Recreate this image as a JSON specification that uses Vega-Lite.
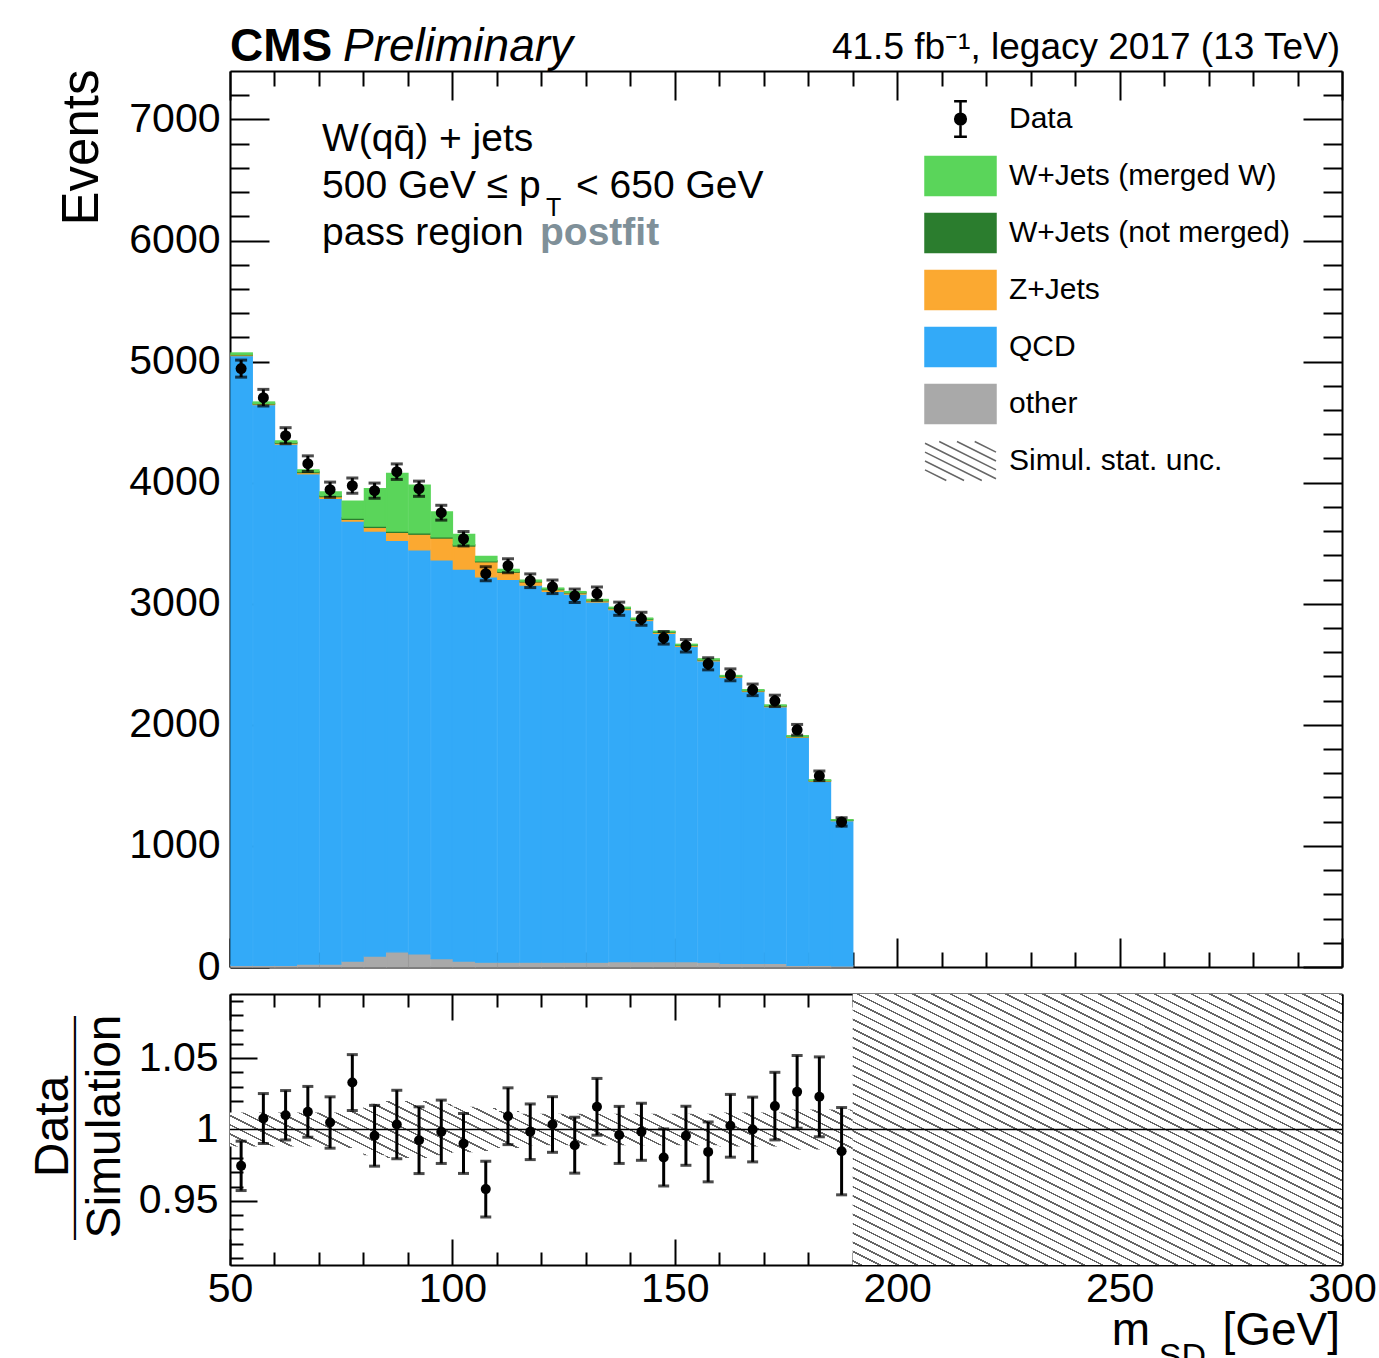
{
  "$schema": "https://vega.github.io/schema/vega-lite/v6.json",
  "background": "white",
  "padding": {"left": 30, "top": 24, "right": 5, "bottom": 5},
  "bounds": "flush",
  "spacing": 27,
  "config": {
    "font": "Liberation Sans",
    "view": {"stroke": null},
    "axis": {"domainColor": "#000", "domainWidth": 2, "tickColor": "#000", "tickWidth": 2, "labelFont": "Liberation Sans", "labelFontSize": 41, "labelColor": "#000", "labelOverlap": false, "labelFlush": false, "grid": false, "zindex": 1, "titleFont": "Liberation Sans", "titleFontWeight": "normal", "titleColor": "#000"},
    "text": {"font": "Liberation Sans", "color": "#000"}
  },
  "datasets": {
    "bins": [
      {"lo":50,"hi":55,"c":52.5,"data":4942,"err":70.3,"ratio":0.9745,"rerr":0.0173,"other":15,"QCD":5035,"Z+Jets":6,"W+Jets (not merged)":5,"W+Jets (merged W)":10},
      {"lo":55,"hi":60,"c":57.5,"data":4702,"err":68.6,"ratio":1.0077,"rerr":0.0175,"other":15,"QCD":4630,"Z+Jets":6,"W+Jets (not merged)":5,"W+Jets (merged W)":10},
      {"lo":60,"hi":65,"c":62.5,"data":4388,"err":66.2,"ratio":1.0100,"rerr":0.0173,"other":15,"QCD":4304,"Z+Jets":8,"W+Jets (not merged)":6,"W+Jets (merged W)":12},
      {"lo":65,"hi":70,"c":67.5,"data":4157,"err":64.5,"ratio":1.0124,"rerr":0.0178,"other":25,"QCD":4049,"Z+Jets":10,"W+Jets (not merged)":7,"W+Jets (merged W)":15},
      {"lo":70,"hi":75,"c":72.5,"data":3942,"err":62.8,"ratio":1.0049,"rerr":0.0180,"other":25,"QCD":3845,"Z+Jets":15,"W+Jets (not merged)":8,"W+Jets (merged W)":30},
      {"lo":75,"hi":80,"c":77.5,"data":3975,"err":63.0,"ratio":1.0329,"rerr":0.0196,"other":50,"QCD":3633,"Z+Jets":15,"W+Jets (not merged)":10,"W+Jets (merged W)":140},
      {"lo":80,"hi":85,"c":82.5,"data":3934,"err":62.7,"ratio":0.9956,"rerr":0.0213,"other":90,"QCD":3511,"Z+Jets":30,"W+Jets (not merged)":10,"W+Jets (merged W)":310},
      {"lo":85,"hi":90,"c":87.5,"data":4091,"err":64.0,"ratio":1.0035,"rerr":0.0240,"other":125,"QCD":3399,"Z+Jets":66,"W+Jets (not merged)":10,"W+Jets (merged W)":477},
      {"lo":90,"hi":95,"c":92.5,"data":3950,"err":62.8,"ratio":0.9925,"rerr":0.0234,"other":110,"QCD":3335,"Z+Jets":130,"W+Jets (not merged)":10,"W+Jets (merged W)":395},
      {"lo":95,"hi":100,"c":97.5,"data":3752,"err":61.3,"ratio":0.9984,"rerr":0.0222,"other":70,"QCD":3293,"Z+Jets":180,"W+Jets (not merged)":10,"W+Jets (merged W)":205},
      {"lo":100,"hi":105,"c":102.5,"data":3537,"err":59.5,"ratio":0.9902,"rerr":0.0210,"other":50,"QCD":3237,"Z+Jets":190,"W+Jets (not merged)":10,"W+Jets (merged W)":85},
      {"lo":105,"hi":110,"c":107.5,"data":3248,"err":57.0,"ratio":0.9582,"rerr":0.0195,"other":40,"QCD":3182,"Z+Jets":125,"W+Jets (not merged)":8,"W+Jets (merged W)":35},
      {"lo":110,"hi":115,"c":112.5,"data":3314,"err":57.6,"ratio":1.0093,"rerr":0.0199,"other":40,"QCD":3161,"Z+Jets":60,"W+Jets (not merged)":7,"W+Jets (merged W)":15},
      {"lo":115,"hi":120,"c":117.5,"data":3190,"err":56.5,"ratio":0.9984,"rerr":0.0195,"other":40,"QCD":3114,"Z+Jets":27,"W+Jets (not merged)":6,"W+Jets (merged W)":8},
      {"lo":120,"hi":125,"c":122.5,"data":3140,"err":56.0,"ratio":1.0035,"rerr":0.0195,"other":40,"QCD":3063,"Z+Jets":14,"W+Jets (not merged)":6,"W+Jets (merged W)":6},
      {"lo":125,"hi":130,"c":127.5,"data":3066,"err":55.4,"ratio":0.9890,"rerr":0.0196,"other":40,"QCD":3040,"Z+Jets":10,"W+Jets (not merged)":5,"W+Jets (merged W)":5},
      {"lo":130,"hi":135,"c":132.5,"data":3083,"err":55.5,"ratio":1.0159,"rerr":0.0199,"other":40,"QCD":2975,"Z+Jets":10,"W+Jets (not merged)":5,"W+Jets (merged W)":5},
      {"lo":135,"hi":140,"c":137.5,"data":2959,"err":54.4,"ratio":0.9962,"rerr":0.0200,"other":45,"QCD":2907,"Z+Jets":9,"W+Jets (not merged)":5,"W+Jets (merged W)":5},
      {"lo":140,"hi":145,"c":142.5,"data":2876,"err":53.6,"ratio":0.9984,"rerr":0.0200,"other":45,"QCD":2817,"Z+Jets":9,"W+Jets (not merged)":5,"W+Jets (merged W)":5},
      {"lo":145,"hi":150,"c":147.5,"data":2719,"err":52.1,"ratio":0.9804,"rerr":0.0200,"other":45,"QCD":2711,"Z+Jets":8,"W+Jets (not merged)":5,"W+Jets (merged W)":4},
      {"lo":150,"hi":155,"c":152.5,"data":2653,"err":51.5,"ratio":0.9956,"rerr":0.0207,"other":45,"QCD":2603,"Z+Jets":8,"W+Jets (not merged)":5,"W+Jets (merged W)":4},
      {"lo":155,"hi":160,"c":157.5,"data":2504,"err":50.0,"ratio":0.9843,"rerr":0.0210,"other":40,"QCD":2489,"Z+Jets":7,"W+Jets (not merged)":4,"W+Jets (merged W)":4},
      {"lo":160,"hi":165,"c":162.5,"data":2413,"err":49.1,"ratio":1.0026,"rerr":0.0220,"other":30,"QCD":2362,"Z+Jets":7,"W+Jets (not merged)":4,"W+Jets (merged W)":4},
      {"lo":165,"hi":170,"c":167.5,"data":2289,"err":47.8,"ratio":1.0000,"rerr":0.0227,"other":30,"QCD":2246,"Z+Jets":6,"W+Jets (not merged)":4,"W+Jets (merged W)":3},
      {"lo":170,"hi":175,"c":172.5,"data":2198,"err":46.9,"ratio":1.0164,"rerr":0.0237,"other":30,"QCD":2120,"Z+Jets":6,"W+Jets (not merged)":4,"W+Jets (merged W)":3},
      {"lo":175,"hi":180,"c":177.5,"data":1959,"err":44.3,"ratio":1.0264,"rerr":0.0255,"other":15,"QCD":1883,"Z+Jets":5,"W+Jets (not merged)":3,"W+Jets (merged W)":3},
      {"lo":180,"hi":185,"c":182.5,"data":1579,"err":39.7,"ratio":1.0229,"rerr":0.0280,"other":15,"QCD":1520,"Z+Jets":4,"W+Jets (not merged)":3,"W+Jets (merged W)":2},
      {"lo":185,"hi":190,"c":187.5,"data":1198,"err":34.6,"ratio":0.9848,"rerr":0.0306,"other":10,"QCD":1199,"Z+Jets":3,"W+Jets (not merged)":2,"W+Jets (merged W)":2}
    ],
    "band": [
      {"x":50,"blo":0.988,"bhi":1.012},{"x":55,"blo":0.988,"bhi":1.012},{"x":60,"blo":0.988,"bhi":1.012},{"x":65,"blo":0.988,"bhi":1.012},
      {"x":70,"blo":0.988,"bhi":1.012},{"x":75,"blo":0.987,"bhi":1.013},{"x":80,"blo":0.982,"bhi":1.018},{"x":85,"blo":0.980,"bhi":1.020},
      {"x":90,"blo":0.980,"bhi":1.020},{"x":95,"blo":0.982,"bhi":1.018},{"x":100,"blo":0.984,"bhi":1.016},{"x":105,"blo":0.985,"bhi":1.015},
      {"x":110,"blo":0.987,"bhi":1.013},{"x":115,"blo":0.989,"bhi":1.011},{"x":120,"blo":0.989,"bhi":1.011},{"x":125,"blo":0.989,"bhi":1.011},
      {"x":130,"blo":0.989,"bhi":1.011},{"x":135,"blo":0.989,"bhi":1.011},{"x":140,"blo":0.989,"bhi":1.011},{"x":145,"blo":0.989,"bhi":1.011},
      {"x":150,"blo":0.989,"bhi":1.011},{"x":155,"blo":0.989,"bhi":1.011},{"x":160,"blo":0.988,"bhi":1.012},{"x":165,"blo":0.988,"bhi":1.012},
      {"x":170,"blo":0.988,"bhi":1.012},{"x":175,"blo":0.986,"bhi":1.014},{"x":180,"blo":0.986,"bhi":1.014},{"x":185,"blo":0.986,"bhi":1.014},
      {"x":190,"blo":0.986,"bhi":1.014}
    ],
    "ranks": [
      {"process":"other","rank":1},
      {"process":"QCD","rank":2},
      {"process":"Z+Jets","rank":3},
      {"process":"W+Jets (not merged)","rank":4},
      {"process":"W+Jets (merged W)","rank":5}
    ]
  },
  "vconcat": [
    {
      "width": 1112,
      "height": 896,
      "data": {"name": "bins"},
      "layer": [
        {
          "transform": [
            {"fold": ["other", "QCD", "Z+Jets", "W+Jets (not merged)", "W+Jets (merged W)"], "as": ["process", "n"]},
            {"lookup": "process", "from": {"data": {"name": "ranks"}, "key": "process", "fields": ["rank"]}}
          ],
          "mark": {"type": "bar", "strokeWidth": 1.4},
          "encoding": {
            "x": {"field": "lo", "type": "quantitative", "bin": {"binned": true, "step": 5}, "scale": {"domain": [50, 300], "nice": false, "zero": false},
                  "axis": {"orient": "bottom", "values": [50,60,70,80,90,100,110,120,130,140,150,160,170,180,190,200,210,220,230,240,250,260,270,280,290,300], "labels": false, "tickSize": {"expr": "datum.value % 50 === 0 ? -29 : -15"}, "title": null}},
            "x2": {"field": "hi"},
            "y": {"field": "n", "type": "quantitative", "stack": "zero", "scale": {"domain": [0, 7400], "nice": false, "zero": false},
                  "axis": {"orient": "left", "values": [0,200,400,600,800,1000,1200,1400,1600,1800,2000,2200,2400,2600,2800,3000,3200,3400,3600,3800,4000,4200,4400,4600,4800,5000,5200,5400,5600,5800,6000,6200,6400,6600,6800,7000,7200],
                           "tickSize": {"expr": "datum.value % 1000 === 0 ? -39 : -19"},
                           "labelExpr": "datum.value % 1000 === 0 ? format(datum.value, 'd') : ''",
                           "labelPadding": 49, "labelFontSize": 41,
                           "title": "Events", "titleFontSize": 51, "titleAngle": 270, "titleAlign": "right", "titleBaseline": "alphabetic", "titleX": -133, "titleY": -2}},
            "color": {"field": "process", "type": "nominal",
                      "scale": {"domain": ["Data", "W+Jets (merged W)", "W+Jets (not merged)", "Z+Jets", "QCD", "other", "Simul. stat. unc."],
                                "range": ["#000000", "#5ad55a", "#2b7d2e", "#fba931", "#33aaf8", "#a9a9a9", "#ffffff"]},
                      "legend": {
                        "orient": "none", "legendX": 715.5, "legendY": 33, "title": null, "padding": 0,
                        "symbolSize": 5041, "symbolStrokeWidth": 1.5, "symbolOpacity": 1,
                        "labelFont": "Liberation Sans", "labelFontSize": 30, "labelColor": "#000", "labelOffset": 33.5, "labelLimit": 0, "rowPadding": 11,
                        "encode": {
                          "symbols": {
                            "update": {
                              "shape": {"signal": "datum.value === 'Data' ? 'M0,-0.5V0.5M-0.18,-0.5H0.18M-0.18,0.5H0.18M-0.15,0A0.15,0.15 0 1,0 0.15,0A0.15,0.15 0 1,0 -0.15,0Z' : datum.value === 'Simul. stat. unc.' ? 'M0.4,-0.55L1,-0.25M-0.1,-0.55L1,0M-0.6,-0.55L1,0.25M-1,-0.5L1,0.5M-1,-0.25L0.6,0.55M-1,0L0.1,0.55M-1,0.25L-0.4,0.55' : 'M-1,-0.55H1V0.55H-1Z'"},
                              "fill": {"signal": "datum.value === 'Data' ? '#000' : datum.value === 'Simul. stat. unc.' ? 'transparent' : datum.value === 'W+Jets (merged W)' ? '#5ad55a' : datum.value === 'W+Jets (not merged)' ? '#2b7d2e' : datum.value === 'Z+Jets' ? '#fba931' : datum.value === 'QCD' ? '#33aaf8' : '#a9a9a9'"},
                              "strokeWidth": {"signal": "datum.value === 'Data' ? 2.5 : 1.5"},
                              "opacity": {"value": 1}
                            }
                          }
                        }
                      }},
            "stroke": {"field": "process", "type": "nominal",
                       "scale": {"domain": ["Data", "W+Jets (merged W)", "W+Jets (not merged)", "Z+Jets", "QCD", "other", "Simul. stat. unc."],
                                 "range": ["#000000", "#5ad55a", "#2b7d2e", "#fba931", "#33aaf8", "#a9a9a9", "#666666"]},
                       "legend": null},
            "order": {"field": "rank", "type": "quantitative"}
          }
        },
        {
          "mark": {"type": "errorbar", "thickness": 3, "color": "#000", "ticks": {"size": 12, "thickness": 3, "color": "#000"}},
          "encoding": {
            "x": {"field": "c", "type": "quantitative", "scale": {"domain": [50, 300], "nice": false, "zero": false}, "axis": null},
            "y": {"field": "data", "type": "quantitative", "scale": {"domain": [0, 7400], "nice": false, "zero": false}, "axis": null},
            "yError": {"field": "err"}
          }
        },
        {
          "mark": {"type": "point", "filled": true, "size": 121, "color": "#000", "opacity": 1},
          "encoding": {
            "x": {"field": "c", "type": "quantitative", "scale": {"domain": [50, 300], "nice": false, "zero": false},
                  "axis": {"orient": "top", "values": [50,60,70,80,90,100,110,120,130,140,150,160,170,180,190,200,210,220,230,240,250,260,270,280,290,300], "labels": false, "tickSize": {"expr": "datum.value % 50 === 0 ? -29 : -15"}, "title": null}},
            "y": {"field": "data", "type": "quantitative", "scale": {"domain": [0, 7400], "nice": false, "zero": false},
                  "axis": {"orient": "right", "values": [0,200,400,600,800,1000,1200,1400,1600,1800,2000,2200,2400,2600,2800,3000,3200,3400,3600,3800,4000,4200,4400,4600,4800,5000,5200,5400,5600,5800,6000,6200,6400,6600,6800,7000,7200], "labels": false, "tickSize": {"expr": "datum.value % 1000 === 0 ? -39 : -19"}, "title": null}}
          }
        },
        {
          "data": {"values": [{}]},
          "mark": {"type": "text", "text": "CMS", "fontSize": 46, "fontWeight": "bold", "align": "left", "baseline": "alphabetic", "dx": 0, "dy": -10},
          "encoding": {"x": {"datum": 50, "type": "quantitative", "scale": {"domain": [50, 300], "nice": false, "zero": false}, "axis": null}, "y": {"datum": 7400, "type": "quantitative", "scale": {"domain": [0, 7400], "nice": false, "zero": false}, "axis": null}}
        },
        {
          "data": {"values": [{}]},
          "mark": {"type": "text", "text": "Preliminary", "fontSize": 46, "fontStyle": "italic", "align": "left", "baseline": "alphabetic", "dx": 113, "dy": -10},
          "encoding": {"x": {"datum": 50, "type": "quantitative", "scale": {"domain": [50, 300], "nice": false, "zero": false}, "axis": null}, "y": {"datum": 7400, "type": "quantitative", "scale": {"domain": [0, 7400], "nice": false, "zero": false}, "axis": null}}
        },
        {
          "data": {"values": [{}]},
          "mark": {"type": "text", "text": "41.5 fb⁻¹, legacy 2017 (13 TeV)", "fontSize": 37, "align": "right", "baseline": "alphabetic", "dx": -2, "dy": -12},
          "encoding": {"x": {"datum": 300, "type": "quantitative", "scale": {"domain": [50, 300], "nice": false, "zero": false}, "axis": null}, "y": {"datum": 7400, "type": "quantitative", "scale": {"domain": [0, 7400], "nice": false, "zero": false}, "axis": null}}
        },
        {
          "data": {"values": [{}]},
          "mark": {"type": "text", "text": "W(qq̄) + jets", "fontSize": 39, "align": "left", "baseline": "alphabetic", "dx": 92, "dy": 80},
          "encoding": {"x": {"datum": 50, "type": "quantitative", "scale": {"domain": [50, 300], "nice": false, "zero": false}, "axis": null}, "y": {"datum": 7400, "type": "quantitative", "scale": {"domain": [0, 7400], "nice": false, "zero": false}, "axis": null}}
        },
        {
          "data": {"values": [{}]},
          "mark": {"type": "text", "text": "500 GeV ≤ p", "fontSize": 39, "align": "left", "baseline": "alphabetic", "dx": 92, "dy": 127},
          "encoding": {"x": {"datum": 50, "type": "quantitative", "scale": {"domain": [50, 300], "nice": false, "zero": false}, "axis": null}, "y": {"datum": 7400, "type": "quantitative", "scale": {"domain": [0, 7400], "nice": false, "zero": false}, "axis": null}}
        },
        {
          "data": {"values": [{}]},
          "mark": {"type": "text", "text": "T", "fontSize": 25, "align": "left", "baseline": "alphabetic", "dx": 316, "dy": 145},
          "encoding": {"x": {"datum": 50, "type": "quantitative", "scale": {"domain": [50, 300], "nice": false, "zero": false}, "axis": null}, "y": {"datum": 7400, "type": "quantitative", "scale": {"domain": [0, 7400], "nice": false, "zero": false}, "axis": null}}
        },
        {
          "data": {"values": [{}]},
          "mark": {"type": "text", "text": "< 650 GeV", "fontSize": 39, "align": "left", "baseline": "alphabetic", "dx": 346, "dy": 127},
          "encoding": {"x": {"datum": 50, "type": "quantitative", "scale": {"domain": [50, 300], "nice": false, "zero": false}, "axis": null}, "y": {"datum": 7400, "type": "quantitative", "scale": {"domain": [0, 7400], "nice": false, "zero": false}, "axis": null}}
        },
        {
          "data": {"values": [{}]},
          "mark": {"type": "text", "text": "pass region", "fontSize": 39, "align": "left", "baseline": "alphabetic", "dx": 92, "dy": 174},
          "encoding": {"x": {"datum": 50, "type": "quantitative", "scale": {"domain": [50, 300], "nice": false, "zero": false}, "axis": null}, "y": {"datum": 7400, "type": "quantitative", "scale": {"domain": [0, 7400], "nice": false, "zero": false}, "axis": null}}
        },
        {
          "data": {"values": [{}]},
          "mark": {"type": "text", "text": "postfit", "fontSize": 39, "fontWeight": "bold", "color": "#7f9099", "align": "left", "baseline": "alphabetic", "dx": 310, "dy": 174},
          "encoding": {"x": {"datum": 50, "type": "quantitative", "scale": {"domain": [50, 300], "nice": false, "zero": false}, "axis": null}, "y": {"datum": 7400, "type": "quantitative", "scale": {"domain": [0, 7400], "nice": false, "zero": false}, "axis": null}}
        }
      ],
      "resolve": {"axis": {"x": "independent", "y": "independent"}}
    },
    {
      "width": 1112,
      "height": 271,
      "data": {"name": "bins"},
      "layer": [
        {
          "data": {"name": "band"},
          "mark": {"type": "area", "interpolate": "step-after", "color": {"gradient": "linear", "x1": 1, "y1": 0, "x2": -0.14482, "y2": 0.20977, "stops": [
            {"offset":0,"color":"#666"},{"offset":0.0049,"color":"#666"},{"offset":0.0049,"color":"#fff"},{"offset":0.0252,"color":"#fff"},
            {"offset":0.0252,"color":"#666"},{"offset":0.0301,"color":"#666"},{"offset":0.0301,"color":"#fff"},{"offset":0.0504,"color":"#fff"},
            {"offset":0.0504,"color":"#666"},{"offset":0.0553,"color":"#666"},{"offset":0.0553,"color":"#fff"},{"offset":0.0756,"color":"#fff"},
            {"offset":0.0756,"color":"#666"},{"offset":0.0805,"color":"#666"},{"offset":0.0805,"color":"#fff"},{"offset":0.1008,"color":"#fff"},
            {"offset":0.1008,"color":"#666"},{"offset":0.1057,"color":"#666"},{"offset":0.1057,"color":"#fff"},{"offset":0.126,"color":"#fff"},
            {"offset":0.126,"color":"#666"},{"offset":0.1309,"color":"#666"},{"offset":0.1309,"color":"#fff"},{"offset":0.1512,"color":"#fff"},
            {"offset":0.1512,"color":"#666"},{"offset":0.1561,"color":"#666"},{"offset":0.1561,"color":"#fff"},{"offset":0.1764,"color":"#fff"},
            {"offset":0.1764,"color":"#666"},{"offset":0.1813,"color":"#666"},{"offset":0.1813,"color":"#fff"},{"offset":0.2016,"color":"#fff"},
            {"offset":0.2016,"color":"#666"},{"offset":0.2065,"color":"#666"},{"offset":0.2065,"color":"#fff"},{"offset":0.2268,"color":"#fff"},
            {"offset":0.2268,"color":"#666"},{"offset":0.2317,"color":"#666"},{"offset":0.2317,"color":"#fff"},{"offset":0.252,"color":"#fff"},
            {"offset":0.252,"color":"#666"},{"offset":0.2569,"color":"#666"},{"offset":0.2569,"color":"#fff"},{"offset":0.2772,"color":"#fff"},
            {"offset":0.2772,"color":"#666"},{"offset":0.2821,"color":"#666"},{"offset":0.2821,"color":"#fff"},{"offset":0.3024,"color":"#fff"},
            {"offset":0.3024,"color":"#666"},{"offset":0.3073,"color":"#666"},{"offset":0.3073,"color":"#fff"},{"offset":0.3276,"color":"#fff"},
            {"offset":0.3276,"color":"#666"},{"offset":0.3325,"color":"#666"},{"offset":0.3325,"color":"#fff"},{"offset":0.3528,"color":"#fff"},
            {"offset":0.3528,"color":"#666"},{"offset":0.3577,"color":"#666"},{"offset":0.3577,"color":"#fff"},{"offset":0.378,"color":"#fff"},
            {"offset":0.378,"color":"#666"},{"offset":0.3829,"color":"#666"},{"offset":0.3829,"color":"#fff"},{"offset":0.4032,"color":"#fff"},
            {"offset":0.4032,"color":"#666"},{"offset":0.4081,"color":"#666"},{"offset":0.4081,"color":"#fff"},{"offset":0.4284,"color":"#fff"},
            {"offset":0.4284,"color":"#666"},{"offset":0.4333,"color":"#666"},{"offset":0.4333,"color":"#fff"},{"offset":0.4536,"color":"#fff"},
            {"offset":0.4536,"color":"#666"},{"offset":0.4585,"color":"#666"},{"offset":0.4585,"color":"#fff"},{"offset":0.4788,"color":"#fff"},
            {"offset":0.4788,"color":"#666"},{"offset":0.4837,"color":"#666"},{"offset":0.4837,"color":"#fff"},{"offset":0.504,"color":"#fff"},
            {"offset":0.504,"color":"#666"},{"offset":0.5089,"color":"#666"},{"offset":0.5089,"color":"#fff"},{"offset":0.5292,"color":"#fff"},
            {"offset":0.5292,"color":"#666"},{"offset":0.5341,"color":"#666"},{"offset":0.5341,"color":"#fff"},{"offset":0.5544,"color":"#fff"},
            {"offset":0.5544,"color":"#666"},{"offset":0.5593,"color":"#666"},{"offset":0.5593,"color":"#fff"},{"offset":0.5796,"color":"#fff"},
            {"offset":0.5796,"color":"#666"},{"offset":0.5845,"color":"#666"},{"offset":0.5845,"color":"#fff"},{"offset":0.6048,"color":"#fff"},
            {"offset":0.6048,"color":"#666"},{"offset":0.6097,"color":"#666"},{"offset":0.6097,"color":"#fff"},{"offset":0.63,"color":"#fff"},
            {"offset":0.63,"color":"#666"},{"offset":0.6349,"color":"#666"},{"offset":0.6349,"color":"#fff"},{"offset":0.6552,"color":"#fff"},
            {"offset":0.6552,"color":"#666"},{"offset":0.6601,"color":"#666"},{"offset":0.6601,"color":"#fff"},{"offset":0.6804,"color":"#fff"},
            {"offset":0.6804,"color":"#666"},{"offset":0.6853,"color":"#666"},{"offset":0.6853,"color":"#fff"},{"offset":0.7056,"color":"#fff"},
            {"offset":0.7056,"color":"#666"},{"offset":0.7105,"color":"#666"},{"offset":0.7105,"color":"#fff"},{"offset":0.7308,"color":"#fff"},
            {"offset":0.7308,"color":"#666"},{"offset":0.7357,"color":"#666"},{"offset":0.7357,"color":"#fff"},{"offset":0.756,"color":"#fff"},
            {"offset":0.756,"color":"#666"},{"offset":0.7609,"color":"#666"},{"offset":0.7609,"color":"#fff"},{"offset":0.7812,"color":"#fff"},
            {"offset":0.7812,"color":"#666"},{"offset":0.7861,"color":"#666"},{"offset":0.7861,"color":"#fff"},{"offset":0.8064,"color":"#fff"},
            {"offset":0.8064,"color":"#666"},{"offset":0.8113,"color":"#666"},{"offset":0.8113,"color":"#fff"},{"offset":0.8316,"color":"#fff"},
            {"offset":0.8316,"color":"#666"},{"offset":0.8365,"color":"#666"},{"offset":0.8365,"color":"#fff"},{"offset":0.8568,"color":"#fff"},
            {"offset":0.8568,"color":"#666"},{"offset":0.8617,"color":"#666"},{"offset":0.8617,"color":"#fff"},{"offset":0.882,"color":"#fff"},
            {"offset":0.882,"color":"#666"},{"offset":0.8869,"color":"#666"},{"offset":0.8869,"color":"#fff"},{"offset":0.9072,"color":"#fff"},
            {"offset":0.9072,"color":"#666"},{"offset":0.9121,"color":"#666"},{"offset":0.9121,"color":"#fff"},{"offset":0.9324,"color":"#fff"},
            {"offset":0.9324,"color":"#666"},{"offset":0.9373,"color":"#666"},{"offset":0.9373,"color":"#fff"},{"offset":0.9576,"color":"#fff"},
            {"offset":0.9576,"color":"#666"},{"offset":0.9625,"color":"#666"},{"offset":0.9625,"color":"#fff"},{"offset":0.9828,"color":"#fff"},
            {"offset":0.9828,"color":"#666"},{"offset":0.9877,"color":"#666"},{"offset":0.9877,"color":"#fff"},{"offset":1,"color":"#fff"}
          ]}},
          "encoding": {
            "x": {"field": "x", "type": "quantitative", "scale": {"domain": [50, 300], "nice": false, "zero": false},
                  "axis": {"orient": "top", "values": [50,60,70,80,90,100,110,120,130,140,150,160,170,180,190,200,210,220,230,240,250,260,270,280,290,300], "labels": false, "tickSize": {"expr": "datum.value % 50 === 0 ? -26 : -13"}, "title": null}},
            "y": {"field": "blo", "type": "quantitative", "scale": {"domain": [0.905, 1.095], "nice": false, "zero": false},
                  "axis": {"orient": "right", "values": [0.91,0.92,0.93,0.94,0.95,0.96,0.97,0.98,0.99,1,1.01,1.02,1.03,1.04,1.05,1.06,1.07,1.08,1.09], "labels": false, "tickSize": {"expr": "abs(datum.value*20 - round(datum.value*20)) < 0.001 ? -27 : -13"}, "title": null}},
            "y2": {"field": "bhi"}
          }
        },
        {
          "data": {"values": [{}]},
          "mark": {"type": "rect", "color": {"gradient": "linear", "x1": 1, "y1": 0, "x2": 0.0535, "y2": 1.0484, "stops": [
            {"offset":0,"color":"#666"},{"offset":0.0035,"color":"#666"},{"offset":0.0035,"color":"#fff"},{"offset":0.018,"color":"#fff"},
            {"offset":0.018,"color":"#666"},{"offset":0.0215,"color":"#666"},{"offset":0.0215,"color":"#fff"},{"offset":0.036,"color":"#fff"},
            {"offset":0.036,"color":"#666"},{"offset":0.0395,"color":"#666"},{"offset":0.0395,"color":"#fff"},{"offset":0.054,"color":"#fff"},
            {"offset":0.054,"color":"#666"},{"offset":0.0575,"color":"#666"},{"offset":0.0575,"color":"#fff"},{"offset":0.072,"color":"#fff"},
            {"offset":0.072,"color":"#666"},{"offset":0.0755,"color":"#666"},{"offset":0.0755,"color":"#fff"},{"offset":0.09,"color":"#fff"},
            {"offset":0.09,"color":"#666"},{"offset":0.0935,"color":"#666"},{"offset":0.0935,"color":"#fff"},{"offset":0.108,"color":"#fff"},
            {"offset":0.108,"color":"#666"},{"offset":0.1115,"color":"#666"},{"offset":0.1115,"color":"#fff"},{"offset":0.126,"color":"#fff"},
            {"offset":0.126,"color":"#666"},{"offset":0.1295,"color":"#666"},{"offset":0.1295,"color":"#fff"},{"offset":0.144,"color":"#fff"},
            {"offset":0.144,"color":"#666"},{"offset":0.1475,"color":"#666"},{"offset":0.1475,"color":"#fff"},{"offset":0.162,"color":"#fff"},
            {"offset":0.162,"color":"#666"},{"offset":0.1655,"color":"#666"},{"offset":0.1655,"color":"#fff"},{"offset":0.18,"color":"#fff"},
            {"offset":0.18,"color":"#666"},{"offset":0.1835,"color":"#666"},{"offset":0.1835,"color":"#fff"},{"offset":0.198,"color":"#fff"},
            {"offset":0.198,"color":"#666"},{"offset":0.2015,"color":"#666"},{"offset":0.2015,"color":"#fff"},{"offset":0.216,"color":"#fff"},
            {"offset":0.216,"color":"#666"},{"offset":0.2195,"color":"#666"},{"offset":0.2195,"color":"#fff"},{"offset":0.234,"color":"#fff"},
            {"offset":0.234,"color":"#666"},{"offset":0.2375,"color":"#666"},{"offset":0.2375,"color":"#fff"},{"offset":0.252,"color":"#fff"},
            {"offset":0.252,"color":"#666"},{"offset":0.2555,"color":"#666"},{"offset":0.2555,"color":"#fff"},{"offset":0.27,"color":"#fff"},
            {"offset":0.27,"color":"#666"},{"offset":0.2735,"color":"#666"},{"offset":0.2735,"color":"#fff"},{"offset":0.288,"color":"#fff"},
            {"offset":0.288,"color":"#666"},{"offset":0.2915,"color":"#666"},{"offset":0.2915,"color":"#fff"},{"offset":0.306,"color":"#fff"},
            {"offset":0.306,"color":"#666"},{"offset":0.3095,"color":"#666"},{"offset":0.3095,"color":"#fff"},{"offset":0.324,"color":"#fff"},
            {"offset":0.324,"color":"#666"},{"offset":0.3275,"color":"#666"},{"offset":0.3275,"color":"#fff"},{"offset":0.342,"color":"#fff"},
            {"offset":0.342,"color":"#666"},{"offset":0.3455,"color":"#666"},{"offset":0.3455,"color":"#fff"},{"offset":0.36,"color":"#fff"},
            {"offset":0.36,"color":"#666"},{"offset":0.3635,"color":"#666"},{"offset":0.3635,"color":"#fff"},{"offset":0.378,"color":"#fff"},
            {"offset":0.378,"color":"#666"},{"offset":0.3815,"color":"#666"},{"offset":0.3815,"color":"#fff"},{"offset":0.396,"color":"#fff"},
            {"offset":0.396,"color":"#666"},{"offset":0.3995,"color":"#666"},{"offset":0.3995,"color":"#fff"},{"offset":0.414,"color":"#fff"},
            {"offset":0.414,"color":"#666"},{"offset":0.4175,"color":"#666"},{"offset":0.4175,"color":"#fff"},{"offset":0.432,"color":"#fff"},
            {"offset":0.432,"color":"#666"},{"offset":0.4355,"color":"#666"},{"offset":0.4355,"color":"#fff"},{"offset":0.45,"color":"#fff"},
            {"offset":0.45,"color":"#666"},{"offset":0.4535,"color":"#666"},{"offset":0.4535,"color":"#fff"},{"offset":0.468,"color":"#fff"},
            {"offset":0.468,"color":"#666"},{"offset":0.4715,"color":"#666"},{"offset":0.4715,"color":"#fff"},{"offset":0.486,"color":"#fff"},
            {"offset":0.486,"color":"#666"},{"offset":0.4895,"color":"#666"},{"offset":0.4895,"color":"#fff"},{"offset":0.504,"color":"#fff"},
            {"offset":0.504,"color":"#666"},{"offset":0.5075,"color":"#666"},{"offset":0.5075,"color":"#fff"},{"offset":0.522,"color":"#fff"},
            {"offset":0.522,"color":"#666"},{"offset":0.5255,"color":"#666"},{"offset":0.5255,"color":"#fff"},{"offset":0.54,"color":"#fff"},
            {"offset":0.54,"color":"#666"},{"offset":0.5435,"color":"#666"},{"offset":0.5435,"color":"#fff"},{"offset":0.558,"color":"#fff"},
            {"offset":0.558,"color":"#666"},{"offset":0.5615,"color":"#666"},{"offset":0.5615,"color":"#fff"},{"offset":0.576,"color":"#fff"},
            {"offset":0.576,"color":"#666"},{"offset":0.5795,"color":"#666"},{"offset":0.5795,"color":"#fff"},{"offset":0.594,"color":"#fff"},
            {"offset":0.594,"color":"#666"},{"offset":0.5975,"color":"#666"},{"offset":0.5975,"color":"#fff"},{"offset":0.612,"color":"#fff"},
            {"offset":0.612,"color":"#666"},{"offset":0.6155,"color":"#666"},{"offset":0.6155,"color":"#fff"},{"offset":0.63,"color":"#fff"},
            {"offset":0.63,"color":"#666"},{"offset":0.6335,"color":"#666"},{"offset":0.6335,"color":"#fff"},{"offset":0.648,"color":"#fff"},
            {"offset":0.648,"color":"#666"},{"offset":0.6515,"color":"#666"},{"offset":0.6515,"color":"#fff"},{"offset":0.666,"color":"#fff"},
            {"offset":0.666,"color":"#666"},{"offset":0.6695,"color":"#666"},{"offset":0.6695,"color":"#fff"},{"offset":0.684,"color":"#fff"},
            {"offset":0.684,"color":"#666"},{"offset":0.6875,"color":"#666"},{"offset":0.6875,"color":"#fff"},{"offset":0.702,"color":"#fff"},
            {"offset":0.702,"color":"#666"},{"offset":0.7055,"color":"#666"},{"offset":0.7055,"color":"#fff"},{"offset":0.72,"color":"#fff"},
            {"offset":0.72,"color":"#666"},{"offset":0.7235,"color":"#666"},{"offset":0.7235,"color":"#fff"},{"offset":0.738,"color":"#fff"},
            {"offset":0.738,"color":"#666"},{"offset":0.7415,"color":"#666"},{"offset":0.7415,"color":"#fff"},{"offset":0.756,"color":"#fff"},
            {"offset":0.756,"color":"#666"},{"offset":0.7595,"color":"#666"},{"offset":0.7595,"color":"#fff"},{"offset":0.774,"color":"#fff"},
            {"offset":0.774,"color":"#666"},{"offset":0.7775,"color":"#666"},{"offset":0.7775,"color":"#fff"},{"offset":0.792,"color":"#fff"},
            {"offset":0.792,"color":"#666"},{"offset":0.7955,"color":"#666"},{"offset":0.7955,"color":"#fff"},{"offset":0.81,"color":"#fff"},
            {"offset":0.81,"color":"#666"},{"offset":0.8135,"color":"#666"},{"offset":0.8135,"color":"#fff"},{"offset":0.828,"color":"#fff"},
            {"offset":0.828,"color":"#666"},{"offset":0.8315,"color":"#666"},{"offset":0.8315,"color":"#fff"},{"offset":0.846,"color":"#fff"},
            {"offset":0.846,"color":"#666"},{"offset":0.8495,"color":"#666"},{"offset":0.8495,"color":"#fff"},{"offset":0.864,"color":"#fff"},
            {"offset":0.864,"color":"#666"},{"offset":0.8675,"color":"#666"},{"offset":0.8675,"color":"#fff"},{"offset":0.882,"color":"#fff"},
            {"offset":0.882,"color":"#666"},{"offset":0.8855,"color":"#666"},{"offset":0.8855,"color":"#fff"},{"offset":0.9,"color":"#fff"},
            {"offset":0.9,"color":"#666"},{"offset":0.9035,"color":"#666"},{"offset":0.9035,"color":"#fff"},{"offset":0.918,"color":"#fff"},
            {"offset":0.918,"color":"#666"},{"offset":0.9215,"color":"#666"},{"offset":0.9215,"color":"#fff"},{"offset":0.936,"color":"#fff"},
            {"offset":0.936,"color":"#666"},{"offset":0.9395,"color":"#666"},{"offset":0.9395,"color":"#fff"},{"offset":0.954,"color":"#fff"},
            {"offset":0.954,"color":"#666"},{"offset":0.9575,"color":"#666"},{"offset":0.9575,"color":"#fff"},{"offset":0.972,"color":"#fff"},
            {"offset":0.972,"color":"#666"},{"offset":0.9755,"color":"#666"},{"offset":0.9755,"color":"#fff"},{"offset":0.99,"color":"#fff"},
            {"offset":0.99,"color":"#666"},{"offset":0.9935,"color":"#666"},{"offset":0.9935,"color":"#fff"},{"offset":1,"color":"#fff"}
          ]}},
          "encoding": {
            "x": {"datum": 190, "type": "quantitative", "scale": {"domain": [50, 300], "nice": false, "zero": false}, "axis": null},
            "x2": {"datum": 300},
            "y": {"datum": 0.905, "type": "quantitative", "scale": {"domain": [0.905, 1.095], "nice": false, "zero": false}, "axis": null},
            "y2": {"datum": 1.095}
          }
        },
        {
          "data": {"values": [{}]},
          "mark": {"type": "rule", "color": "#000", "strokeWidth": 1.5},
          "encoding": {"y": {"datum": 1, "type": "quantitative", "scale": {"domain": [0.905, 1.095], "nice": false, "zero": false}, "axis": null}}
        },
        {
          "mark": {"type": "errorbar", "thickness": 3, "color": "#000", "ticks": {"size": 11, "thickness": 3, "color": "#000"}},
          "encoding": {
            "x": {"field": "c", "type": "quantitative", "scale": {"domain": [50, 300], "nice": false, "zero": false}, "axis": null},
            "y": {"field": "ratio", "type": "quantitative", "scale": {"domain": [0.905, 1.095], "nice": false, "zero": false}, "axis": null},
            "yError": {"field": "rerr"}
          }
        },
        {
          "mark": {"type": "point", "filled": true, "size": 100, "color": "#000", "opacity": 1},
          "encoding": {
            "x": {"field": "c", "type": "quantitative", "scale": {"domain": [50, 300], "nice": false, "zero": false},
                  "axis": {"orient": "bottom", "values": [50,60,70,80,90,100,110,120,130,140,150,160,170,180,190,200,210,220,230,240,250,260,270,280,290,300], "tickSize": {"expr": "datum.value % 50 === 0 ? -26 : -13"}, "labelExpr": "datum.value % 50 === 0 ? format(datum.value, 'd') : ''", "labelPadding": 30, "labelFontSize": 41, "title": null}},
            "y": {"field": "ratio", "type": "quantitative", "scale": {"domain": [0.905, 1.095], "nice": false, "zero": false},
                  "axis": {"orient": "left", "values": [0.91,0.92,0.93,0.94,0.95,0.96,0.97,0.98,0.99,1,1.01,1.02,1.03,1.04,1.05,1.06,1.07,1.08,1.09], "tickSize": {"expr": "abs(datum.value*20 - round(datum.value*20)) < 0.001 ? -27 : -13"}, "labelExpr": "abs(datum.value - 1) < 0.001 ? '1' : abs(datum.value - 1.05) < 0.001 ? '1.05' : abs(datum.value - 0.95) < 0.001 ? '0.95' : ''", "labelPadding": 39, "labelFontSize": 41, "title": null}}
          }
        },
        {
          "data": {"values": [{}]},
          "mark": {"type": "text", "text": "Data", "fontSize": 48, "angle": 270, "align": "center", "baseline": "alphabetic", "dx": 3, "dy": -162},
          "encoding": {"x": {"datum": 50, "type": "quantitative", "scale": {"domain": [50, 300], "nice": false, "zero": false}, "axis": null}, "y": {"datum": 1, "type": "quantitative", "scale": {"domain": [0.905, 1.095], "nice": false, "zero": false}, "axis": null}}
        },
        {
          "data": {"values": [{}]},
          "mark": {"type": "text", "text": "———————", "fontSize": 32, "angle": 270, "align": "center", "baseline": "alphabetic", "dx": 1.5, "dy": -147},
          "encoding": {"x": {"datum": 50, "type": "quantitative", "scale": {"domain": [50, 300], "nice": false, "zero": false}, "axis": null}, "y": {"datum": 1, "type": "quantitative", "scale": {"domain": [0.905, 1.095], "nice": false, "zero": false}, "axis": null}}
        },
        {
          "data": {"values": [{}]},
          "mark": {"type": "text", "text": "Simulation", "fontSize": 48, "angle": 270, "align": "center", "baseline": "alphabetic", "dx": 3, "dy": -110},
          "encoding": {"x": {"datum": 50, "type": "quantitative", "scale": {"domain": [50, 300], "nice": false, "zero": false}, "axis": null}, "y": {"datum": 1, "type": "quantitative", "scale": {"domain": [0.905, 1.095], "nice": false, "zero": false}, "axis": null}}
        },
        {
          "data": {"values": [{}]},
          "mark": {"type": "text", "text": "[GeV]", "fontSize": 46, "align": "right", "baseline": "alphabetic", "dx": -2, "dy": 80},
          "encoding": {"x": {"datum": 300, "type": "quantitative", "scale": {"domain": [50, 300], "nice": false, "zero": false}, "axis": null}, "y": {"datum": 0.905, "type": "quantitative", "scale": {"domain": [0.905, 1.095], "nice": false, "zero": false}, "axis": null}}
        },
        {
          "data": {"values": [{}]},
          "mark": {"type": "text", "text": "SD", "fontSize": 34, "align": "right", "baseline": "alphabetic", "dx": -136, "dy": 102},
          "encoding": {"x": {"datum": 300, "type": "quantitative", "scale": {"domain": [50, 300], "nice": false, "zero": false}, "axis": null}, "y": {"datum": 0.905, "type": "quantitative", "scale": {"domain": [0.905, 1.095], "nice": false, "zero": false}, "axis": null}}
        },
        {
          "data": {"values": [{}]},
          "mark": {"type": "text", "text": "m", "fontSize": 46, "align": "right", "baseline": "alphabetic", "dx": -192, "dy": 80},
          "encoding": {"x": {"datum": 300, "type": "quantitative", "scale": {"domain": [50, 300], "nice": false, "zero": false}, "axis": null}, "y": {"datum": 0.905, "type": "quantitative", "scale": {"domain": [0.905, 1.095], "nice": false, "zero": false}, "axis": null}}
        }
      ],
      "resolve": {"axis": {"x": "independent", "y": "independent"}}
    }
  ]
}
